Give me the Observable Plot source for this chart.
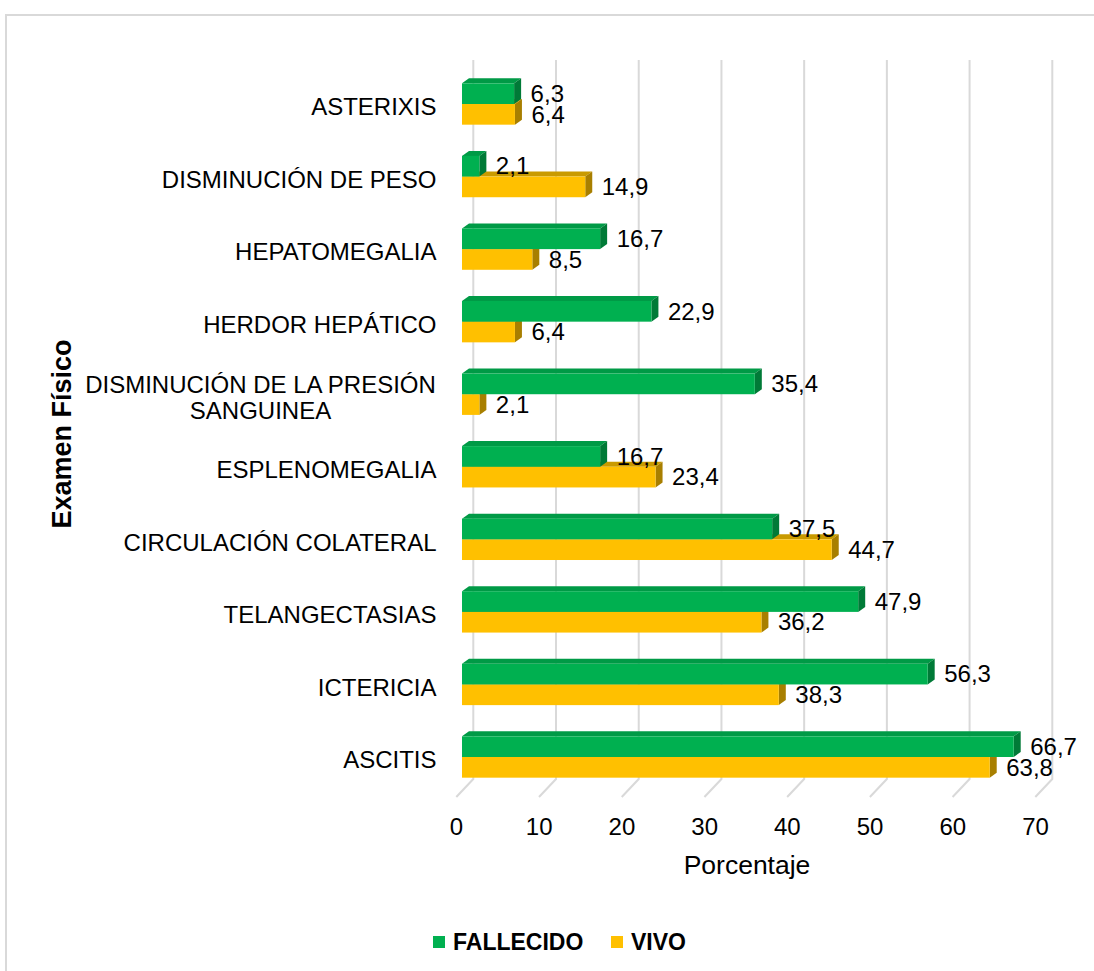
<!DOCTYPE html>
<html>
<head>
<meta charset="utf-8">
<script src="https://cdn.jsdelivr.net/npm/d3@7"></script>
<script src="https://cdn.jsdelivr.net/npm/@observablehq/plot@0.6"></script>
<style>
  html, body { margin: 0; padding: 0; background: #fff; }
  body { width: 1094px; height: 971px; position: relative; overflow: hidden; font-family: "Liberation Sans", Arial, sans-serif; }
  #frame { position: absolute; left: 5px; top: 14px; width: 1200px; height: 1100px; border: 2px solid #d9d9d9; box-sizing: border-box; }
  #chart { position: absolute; left: 0; top: 0; }
  #legend { position: absolute; left: 0; top: 929px; width: 1094px; height: 26px; }
  .item { position: absolute; top: 0; display: flex; align-items: center; height: 26px; font-weight: bold; font-size: 23px; color: #000; }
  .sw { width: 12px; height: 12px; margin-right: 8px; }
</style>
</head>
<body>
<div id="frame"></div>
<div id="chart"></div>
<div id="legend"></div>
<script>
const categories = [
  "ASTERIXIS",
  "DISMINUCIÓN DE PESO",
  "HEPATOMEGALIA",
  "HERDOR HEPÁTICO",
  "DISMINUCIÓN DE LA PRESIÓN\nSANGUINEA",
  "ESPLENOMEGALIA",
  "CIRCULACIÓN COLATERAL",
  "TELANGECTASIAS",
  "ICTERICIA",
  "ASCITIS"
];
const fallecido = [6.3, 2.1, 16.7, 22.9, 35.4, 16.7, 37.5, 47.9, 56.3, 66.7];
const vivo      = [6.4, 14.9, 8.5, 6.4, 2.1, 23.4, 44.7, 36.2, 38.3, 63.8];
const xTicks = [0, 10, 20, 30, 40, 50, 60, 70];
const seriesNames = ["FALLECIDO", "VIVO"];
const xTitle = "Porcentaje";
const yTitle = "Examen Físico";

const COLORS = {
  FALLECIDO: {front: "#00b050", top: "#009a46", side: "#007a37"},
  VIVO: {front: "#ffc000", top: "#c99a00", side: "#a87f00"}
};
const H = 0.285;      // bar thickness (fraction of category step)
const DX = 7, DY = 5; // 3D depth
const GX = 11.3;      // back wall offset
const FX = 17, FY = 18; // floor slant

const rowsF = categories.map((c, i) => ({cat: c, i, serie: "FALLECIDO", value: fallecido[i], y1: i - H, y2: i}));
const rowsV = categories.map((c, i) => ({cat: c, i, serie: "VIVO", value: vivo[i], y1: i, y2: i + H}));
const fmt = v => d3.format(".1f")(v).replace(".", ",");

function faces(data, col) {
  return (index, scales, values, dims) => {
    const g = d3.create("svg:g");
    for (const d of data) {
      const x0 = scales.x(0), x1 = scales.x(d.value);
      const yt = scales.y(d.y1), yb = scales.y(d.y2);
      g.append("polygon")
        .attr("points", [[x0, yt], [x0 + DX, yt - DY], [x1 + DX, yt - DY], [x1, yt]].join(" "))
        .attr("fill", col.top);
      g.append("polygon")
        .attr("points", [[x1, yt], [x1 + DX, yt - DY], [x1 + DX, yb - DY], [x1, yb]].join(" "))
        .attr("fill", col.side);
    }
    return g.node();
  };
}

function grid(index, scales, values, dims) {
  const g = d3.create("svg:g").attr("stroke", "#d9d9d9").attr("stroke-width", 2).attr("fill", "none");
  const top = dims.marginTop, bottom = dims.height - dims.marginBottom;
  for (const t of xTicks) {
    const xb = scales.x(t) + GX;
    g.append("polyline").attr("points", [[xb, top], [xb, bottom], [xb - FX, bottom + FY]].join(" "));
  }
  return g.node();
}

const singleCats = categories.map((c, i) => ({c, i})).filter(d => !d.c.includes("\n"));
const multiCats = categories.map((c, i) => ({c, i})).filter(d => d.c.includes("\n"));

const chart = Plot.plot({
  width: 1094,
  height: 900,
  marginLeft: 462,
  marginRight: 53,
  marginTop: 60,
  marginBottom: 121,
  style: {fontFamily: "'Liberation Sans', Arial, sans-serif", background: "transparent", color: "#000"},
  x: {domain: [0, 70], axis: null},
  y: {domain: [0, 9], reverse: true, insetTop: 44, insetBottom: 22, axis: null},
  marks: [
    grid,
    faces(rowsV, COLORS.VIVO),
    Plot.rectX(rowsV, {x1: 0, x2: "value", y1: "y1", y2: "y2", fill: COLORS.VIVO.front}),
    faces(rowsF, COLORS.FALLECIDO),
    Plot.rectX(rowsF, {x1: 0, x2: "value", y1: "y1", y2: "y2", fill: COLORS.FALLECIDO.front}),
    Plot.text(rowsF, {x: "value", y: d => (d.y1 + d.y2) / 2, text: d => fmt(d.value), textAnchor: "start", dx: 16, fontSize: 24, fill: "#000"}),
    Plot.text(rowsV, {x: "value", y: d => (d.y1 + d.y2) / 2, text: d => fmt(d.value), textAnchor: "start", dx: 16, fontSize: 24, fill: "#000"}),
    Plot.text(singleCats, {frameAnchor: "left", y: "i", text: "c", textAnchor: "end", dx: -26, dy: 3, fontSize: 24, fill: "#000"}),
    Plot.text(multiCats, {frameAnchor: "left", y: "i", text: "c", textAnchor: "middle", dx: -202, dy: 3, fontSize: 24, lineHeight: 1.1, fill: "#000"}),
    Plot.text(xTicks, {x: d => d, frameAnchor: "bottom", textAnchor: "middle", dx: -6, dy: 55, text: d => String(d), fontSize: 24, fill: "#000"}),
    Plot.text([xTitle], {frameAnchor: "bottom", textAnchor: "middle", dx: -5, dy: 94, fontSize: 26.5, fill: "#000"}),
    Plot.text([yTitle], {frameAnchor: "left", textAnchor: "middle", dx: -400, dy: 14, rotate: -90, fontSize: 27, fontWeight: "bold", fill: "#000"})
  ]
});
document.getElementById("chart").appendChild(chart);

const legend = document.getElementById("legend");
const legendX = {FALLECIDO: 433, VIVO: 611};
for (const s of seriesNames) {
  const it = document.createElement("div");
  it.className = "item";
  it.style.left = legendX[s] + "px";
  const sw = document.createElement("span");
  sw.className = "sw";
  sw.style.background = COLORS[s].front;
  it.appendChild(sw);
  it.appendChild(document.createTextNode(s));
  legend.appendChild(it);
}
</script>
</body>
</html>
